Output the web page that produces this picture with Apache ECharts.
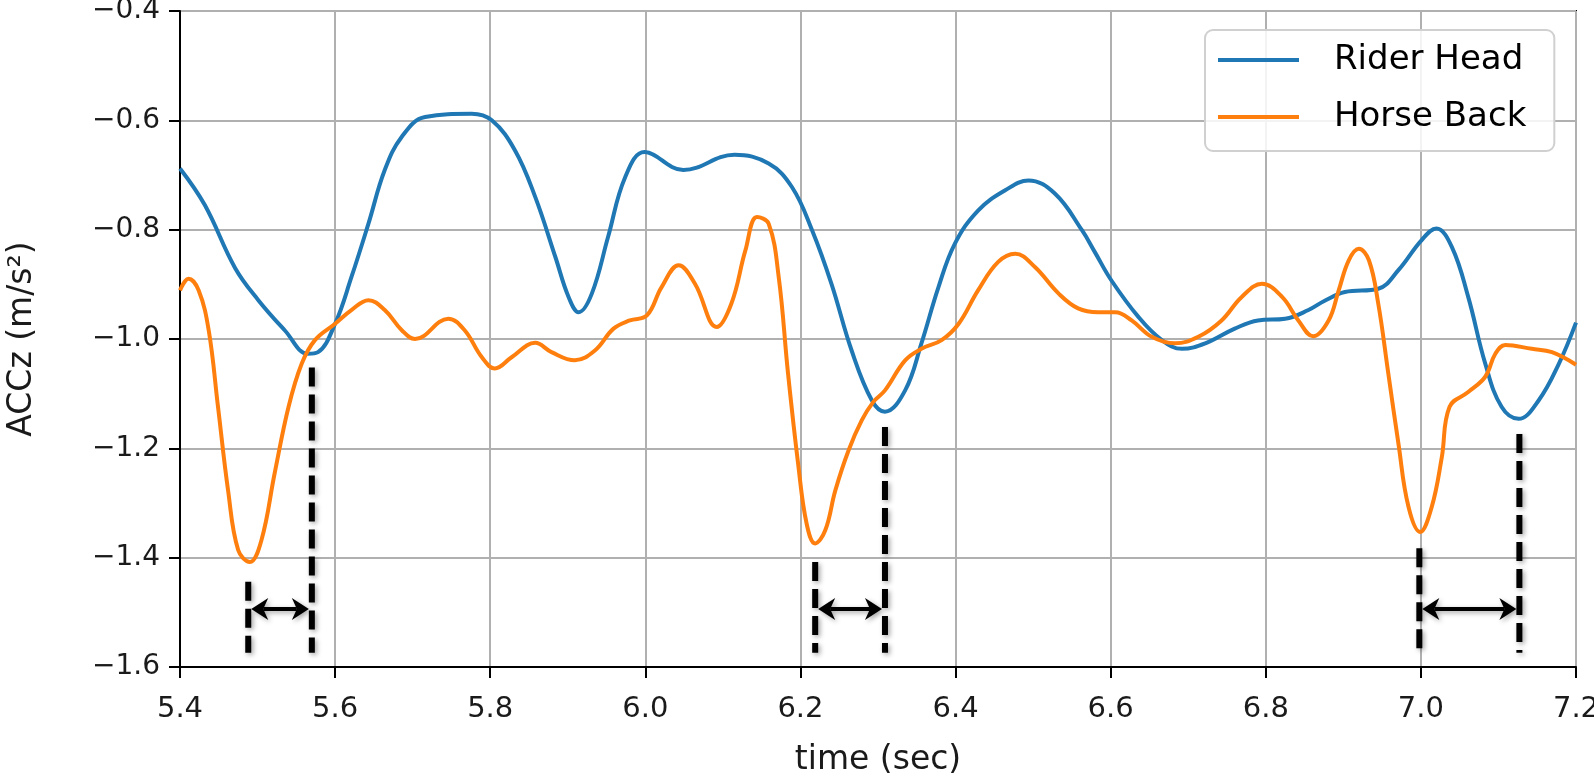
<!DOCTYPE html>
<html>
<head>
<meta charset="utf-8">
<script src="https://cdn.jsdelivr.net/npm/echarts@6/dist/echarts.min.js"></script>
<style>
html,body{margin:0;padding:0;background:#fff;}
#chart{width:1594px;height:779px;}
</style>
</head>
<body>
<div id="chart"></div>
<script>
// ---- data ----
const seriesNames = ['Rider Head', 'Horse Back'];
const headT = [5.400,5.432,5.471,5.501,5.535,5.565,5.578,5.600,5.621,5.643,5.664,5.686,5.716,5.776,5.802,5.832,5.858,5.884,5.901,5.914,5.931,5.952,5.974,5.999,6.049,6.115,6.159,6.189,6.215,6.240,6.266,6.292,6.309,6.335,6.356,6.378,6.399,6.429,6.464,6.494,6.528,6.563,6.580,6.601,6.636,6.666,6.692,6.722,6.760,6.790,6.825,6.855,6.876,6.902,6.945,6.971,7.001,7.020,7.040,7.061,7.083,7.104,7.126,7.152,7.178,7.200];
const headV = [-0.688,-0.755,-0.870,-0.929,-0.984,-1.027,-1.024,-0.972,-0.887,-0.789,-0.691,-0.630,-0.594,-0.588,-0.600,-0.655,-0.740,-0.850,-0.923,-0.951,-0.917,-0.813,-0.704,-0.658,-0.691,-0.663,-0.679,-0.722,-0.801,-0.899,-1.021,-1.112,-1.133,-1.094,-1.008,-0.905,-0.826,-0.765,-0.728,-0.710,-0.734,-0.801,-0.842,-0.893,-0.960,-1.002,-1.018,-1.008,-0.981,-0.966,-0.963,-0.947,-0.930,-0.914,-0.908,-0.874,-0.819,-0.798,-0.832,-0.923,-1.045,-1.124,-1.146,-1.112,-1.045,-0.970];
const backT = [5.400,5.411,5.424,5.437,5.449,5.462,5.475,5.490,5.505,5.522,5.540,5.557,5.574,5.600,5.621,5.643,5.664,5.686,5.703,5.746,5.767,5.789,5.806,5.828,5.858,5.879,5.909,5.935,5.959,5.980,6.002,6.021,6.043,6.064,6.092,6.111,6.129,6.144,6.159,6.172,6.184,6.197,6.208,6.219,6.232,6.245,6.262,6.279,6.294,6.309,6.335,6.356,6.382,6.404,6.429,6.455,6.477,6.502,6.533,6.558,6.584,6.606,6.627,6.653,6.683,6.713,6.743,6.769,6.795,6.821,6.842,6.861,6.881,6.894,6.907,6.920,6.933,6.945,6.958,6.971,6.984,6.999,7.014,7.027,7.037,7.061,7.083,7.096,7.109,7.143,7.169,7.200];
const backV = [-0.911,-0.890,-0.911,-0.984,-1.124,-1.277,-1.386,-1.408,-1.368,-1.246,-1.124,-1.045,-1.002,-0.972,-0.947,-0.929,-0.947,-0.984,-1.000,-0.963,-0.984,-1.033,-1.054,-1.033,-1.007,-1.024,-1.039,-1.021,-0.981,-0.966,-0.957,-0.905,-0.865,-0.899,-0.978,-0.935,-0.838,-0.777,-0.789,-0.887,-1.063,-1.228,-1.338,-1.374,-1.350,-1.277,-1.204,-1.149,-1.115,-1.094,-1.039,-1.018,-1.002,-0.972,-0.911,-0.859,-0.844,-0.868,-0.917,-0.944,-0.951,-0.951,-0.966,-0.996,-1.008,-0.996,-0.966,-0.923,-0.899,-0.923,-0.966,-0.995,-0.966,-0.911,-0.856,-0.835,-0.856,-0.935,-1.063,-1.191,-1.307,-1.353,-1.307,-1.216,-1.124,-1.097,-1.069,-1.027,-1.011,-1.018,-1.024,-1.047];
// annotation markers (time of horse-back minimum and rider-head minimum)
const markLeftT   = [5.488, 6.219, 6.998];
const markRightT  = [5.570, 6.309, 7.127];
const markLeftTop = [-1.444, -1.408, -1.383];
const markRightTop= [-1.052, -1.161, -1.174];
const markBottom  = -1.574;
const arrowV      = -1.494;
const xTicks = {min: 5.4, max: 7.2, step: 0.2};
const yTicks = {min: -1.6, max: -0.4, step: 0.2};

const zip = (a, b) => a.map((v, i) => [v, b[i]]);
const markData = markLeftT.map((t, i) => [t, markRightT[i], markLeftTop[i], markRightTop[i], markBottom, arrowV]);

const FONT = 'DejaVu Sans';
const fmt = v => (v < 0 ? '\u2212' : '') + Math.abs(v).toFixed(1);

const chart = echarts.init(document.getElementById('chart'), null, {renderer: 'canvas'});
chart.setOption({
  animation: false,
  backgroundColor: '#fff',
  grid: {left: 180, right: 18, top: 11, bottom: 112, containLabel: false, outerBoundsMode: 'none',
         show: true, borderColor: '#000', borderWidth: 2, backgroundColor: 'transparent'},
  xAxis: {
    type: 'value', min: xTicks.min, max: xTicks.max, interval: xTicks.step,
    name: 'time (sec)', nameLocation: 'middle', nameGap: 77,
    nameTextStyle: {fontFamily: FONT, fontSize: 33, color: '#1a1a1a'},
    axisLine: {show: true, onZero: false, lineStyle: {color: '#000', width: 2}},
    axisTick: {show: true, inside: false, length: 11, lineStyle: {color: '#000', width: 2}},
    axisLabel: {fontFamily: FONT, fontSize: 29, color: '#1a1a1a', margin: 28, formatter: fmt},
    splitLine: {show: true, lineStyle: {color: '#b0b0b0', width: 2}}
  },
  yAxis: {
    type: 'value', min: yTicks.min, max: yTicks.max, interval: yTicks.step,
    name: 'ACCz (m/s\u00B2)', nameLocation: 'middle', nameGap: 141, nameRotate: 90,
    nameTextStyle: {fontFamily: FONT, fontSize: 33, color: '#1a1a1a'},
    axisLine: {show: true, onZero: false, lineStyle: {color: '#000', width: 2}},
    axisTick: {show: true, inside: false, length: 11, lineStyle: {color: '#000', width: 2}},
    axisLabel: {fontFamily: FONT, fontSize: 28, color: '#1a1a1a', margin: 20, formatter: fmt,
                padding: [8, 0, 0, 0], backgroundColor: 'rgba(255,255,255,0)'},
    splitLine: {show: true, lineStyle: {color: '#b0b0b0', width: 2}}
  },
  legend: {
    data: seriesNames, orient: 'vertical', left: 1205, top: 30,
    icon: 'rect', itemWidth: 81, itemHeight: 4, itemGap: 17,
    padding: [10, 28, 14, 13],
    backgroundColor: 'rgba(255,255,255,0.85)', borderColor: '#d0d0d0', borderWidth: 2, borderRadius: 8,
    textStyle: {fontFamily: FONT, fontSize: 34, color: '#000', padding: [0, 0, 0, 30], lineHeight: 40}
  },
  series: [
    {name: seriesNames[0], type: 'line', data: zip(headT, headV), smooth: 0.4, showSymbol: false, symbol: 'none',
     lineStyle: {color: '#1f77b4', width: 4}, itemStyle: {color: '#1f77b4'}, z: 3},
    {name: seriesNames[1], type: 'line', data: zip(backT, backV), smooth: 0.4, showSymbol: false, symbol: 'none',
     lineStyle: {color: '#ff7f0e', width: 4}, itemStyle: {color: '#ff7f0e'}, z: 4},
    {type: 'custom', data: markData, z: 5, clip: false,
     encode: {x: [0, 1], y: [2, 3, 4, 5]},
     renderItem: function (params, api) {
       const lt = api.coord([api.value(0), api.value(2)]);
       const lb = api.coord([api.value(0), api.value(4)]);
       const rt = api.coord([api.value(1), api.value(3)]);
       const rb = api.coord([api.value(1), api.value(4)]);
       const ay = api.coord([api.value(0), api.value(5)])[1];
       const shadow = {shadowBlur: 5, shadowColor: 'rgba(0,0,0,0.35)', shadowOffsetX: 2, shadowOffsetY: 2};
       const dash = Object.assign({stroke: '#000', lineWidth: 6, lineDash: [19, 8], fill: null}, shadow);
       const xl = lt[0], xr = rt[0];
       const L = 20, H = 11, N = 15;
       return {type: 'group', children: [
         {type: 'line', shape: {x1: xl, y1: lt[1], x2: xl, y2: lb[1]}, style: dash},
         {type: 'line', shape: {x1: xr, y1: rt[1], x2: xr, y2: rb[1]}, style: dash},
         {type: 'line', shape: {x1: xl + N, y1: ay, x2: xr - N, y2: ay}, style: Object.assign({stroke: '#000', lineWidth: 4}, shadow)},
         {type: 'polygon', shape: {points: [[xl + 3, ay], [xl + L, ay - H], [xl + N, ay], [xl + L, ay + H]]}, style: Object.assign({fill: '#000'}, shadow)},
         {type: 'polygon', shape: {points: [[xr - 3, ay], [xr - L, ay - H], [xr - N, ay], [xr - L, ay + H]]}, style: Object.assign({fill: '#000'}, shadow)}
       ]};
     }
    }
  ]
});
</script>
</body>
</html>
